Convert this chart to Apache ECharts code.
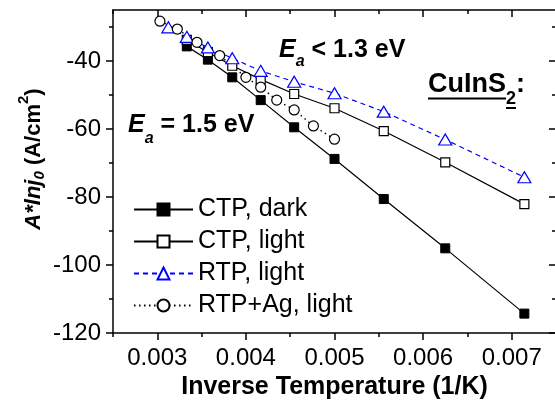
<!DOCTYPE html>
<html><head><meta charset="utf-8">
<script src="https://cdn.jsdelivr.net/npm/echarts@6/dist/echarts.min.js"></script>
<style>html,body{margin:0;padding:0;background:#fff}#c{width:555px;height:400px}</style>
</head><body><div id="c"></div>
<script>
// ---- data ----
const xMajorTicks = [0.003, 0.004, 0.005, 0.006, 0.007];
const xMinorTicks = [0.0025, 0.0035, 0.0045, 0.0055, 0.0065, 0.0075];
const yMajorTicks = [-120, -100, -80, -60, -40];
const yMinorTicks = [-110, -90, -70, -50, -30];

const seriesNames = ['CTP, dark', 'CTP, light', 'RTP, light', 'RTP+Ag, light'];

const ctpX      = [0.003333, 0.003571, 0.003846, 0.004167, 0.004545, 0.005, 0.005556, 0.00625, 0.007143];
const ctpDark   = [-35.7, -39.6, -44.8, -51.5, -59.5, -68.8, -80.6, -95.1, -114.3];
const ctpLight  = [-33.8, -37.4, -41.4, -45.4, -49.7, -53.9, -60.6, -69.8, -82.1];

const rtpX      = [0.003125, 0.003333, 0.003571, 0.003846, 0.004167, 0.004545, 0.005, 0.005556, 0.00625, 0.007143];
const rtpLight  = [-30.1, -32.9, -36.0, -39.2, -42.9, -46.1, -49.5, -54.9, -63.1, -74.2];

const agX       = [0.00303, 0.003226, 0.003448, 0.003704, 0.004, 0.004167, 0.004348, 0.004545, 0.004762, 0.005];
const agLight   = [-28.3, -30.6, -34.5, -38.4, -44.8, -47.7, -51.5, -54.4, -59.1, -63.0];

// ---- chart ----
const FONT = '"Liberation Sans", Arial, Helvetica, sans-serif';
const BLACK = '#000', BLUE = '#0000ff';
const pts = (xs, ys) => xs.map((x, i) => [x, ys[i]]);
function measure(text, font) {
  const c = document.createElement('canvas').getContext('2d');
  c.font = font; return c.measureText(text).width;
}
const cuW = measure('CuInS', 'bold 27px "Liberation Sans"');
const subW = measure('2', 'bold 18px "Liberation Sans"');

const axLine = {color: BLACK, width: 1.5};
const xBase = {type: 'value', min: 0.0025, max: 0.0075, splitLine: {show: false}};
const yBase = {type: 'value', min: -120, max: -25, splitLine: {show: false}};

const chart = echarts.init(document.getElementById('c'));
chart.setOption({
  animation: false,
  backgroundColor: '#fff',
  grid: {left: 113, top: 10, width: 443, height: 323, containLabel: false, outerBoundsMode: 'none'},
  xAxis: [
    Object.assign({}, xBase, {position: 'bottom',
      axisLine: {show: true, onZero: false, lineStyle: axLine},
      axisTick: {show: true, inside: false, length: 7, customValues: xMajorTicks, lineStyle: axLine},
      axisLabel: {show: true, customValues: xMajorTicks, formatter: v => v.toFixed(3),
        fontSize: 24, fontFamily: FONT, color: BLACK, margin: 13},
      name: 'Inverse Temperature (1/K)', nameLocation: 'middle', nameGap: 41,
      nameTextStyle: {fontSize: 25, fontWeight: 'bold', fontFamily: FONT, color: BLACK}}),
    Object.assign({}, xBase, {position: 'bottom',
      axisLine: {show: false, onZero: false},
      axisTick: {show: true, inside: false, length: 4, customValues: xMinorTicks, lineStyle: axLine},
      axisLabel: {show: false}}),
    Object.assign({}, xBase, {position: 'top',
      axisLine: {show: true, onZero: false, lineStyle: axLine},
      axisTick: {show: true, inside: true, length: 7, customValues: xMajorTicks, lineStyle: axLine},
      axisLabel: {show: false}}),
    Object.assign({}, xBase, {position: 'top',
      axisLine: {show: false, onZero: false},
      axisTick: {show: true, inside: true, length: 4, customValues: xMinorTicks, lineStyle: axLine},
      axisLabel: {show: false}})
  ],
  yAxis: [
    Object.assign({}, yBase, {position: 'left',
      axisLine: {show: true, onZero: false, lineStyle: axLine},
      axisTick: {show: true, inside: false, length: 7, customValues: yMajorTicks, lineStyle: axLine},
      axisLabel: {show: true, customValues: yMajorTicks, fontSize: 24, fontFamily: FONT, color: BLACK, margin: 12}}),
    Object.assign({}, yBase, {position: 'left',
      axisLine: {show: false, onZero: false},
      axisTick: {show: true, inside: false, length: 4, customValues: yMinorTicks, lineStyle: axLine},
      axisLabel: {show: false}}),
    Object.assign({}, yBase, {position: 'right',
      axisLine: {show: true, onZero: false, lineStyle: axLine},
      axisTick: {show: true, inside: true, length: 7, customValues: yMajorTicks, lineStyle: axLine},
      axisLabel: {show: false}}),
    Object.assign({}, yBase, {position: 'right',
      axisLine: {show: false, onZero: false},
      axisTick: {show: true, inside: true, length: 4, customValues: yMinorTicks, lineStyle: axLine},
      axisLabel: {show: false}})
  ],
  legend: {
    orient: 'vertical', left: 133, top: 197, padding: 0,
    itemWidth: 59, itemHeight: 15, itemGap: 7, selectedMode: false,
    textStyle: {fontSize: 25, fontFamily: FONT, color: BLACK},
    data: seriesNames
  },
  series: [
    {name: seriesNames[0], type: 'line', data: pts(ctpX, ctpDark),
      symbol: 'rect', symbolSize: 9,
      itemStyle: {color: BLACK, borderColor: BLACK, borderWidth: 1},
      lineStyle: {color: BLACK, width: 1.2}},
    {name: seriesNames[1], type: 'line', data: pts(ctpX, ctpLight),
      symbol: 'rect', symbolSize: 9,
      itemStyle: {color: '#fff', borderColor: BLACK, borderWidth: 1.2},
      lineStyle: {color: BLACK, width: 1.2}},
    {name: seriesNames[2], type: 'line', data: pts(rtpX, rtpLight),
      symbol: 'triangle', symbolSize: [13, 11],
      itemStyle: {color: '#fff', borderColor: BLUE, borderWidth: 1.2},
      lineStyle: {color: BLUE, width: 1.2, type: [5, 4]}},
    {name: seriesNames[3], type: 'line', data: pts(agX, agLight),
      symbol: 'circle', symbolSize: 10,
      itemStyle: {color: '#fff', borderColor: BLACK, borderWidth: 1.2},
      lineStyle: {color: BLACK, width: 1.4, type: [1.5, 3.5]}}
  ],
  graphic: [
    {type: 'text', x: 279, y: 50, z: 100, style: {
      text: '{e|E}{s|a}{t| < 1.3 eV}', align: 'left', verticalAlign: 'middle',
      rich: {
        e: {fontSize: 25, fontWeight: 'bold', fontStyle: 'italic', fontFamily: FONT, fill: BLACK},
        s: {fontSize: 16, fontWeight: 'bold', fontStyle: 'italic', fontFamily: FONT, fill: BLACK, padding: [24, 0, 0, 0]},
        t: {fontSize: 25, fontWeight: 'bold', fontFamily: FONT, fill: BLACK}
      }}},
    {type: 'text', x: 128, y: 125.5, z: 100, style: {
      text: '{e|E}{s|a}{t| = 1.5 eV}', align: 'left', verticalAlign: 'middle',
      rich: {
        e: {fontSize: 25, fontWeight: 'bold', fontStyle: 'italic', fontFamily: FONT, fill: BLACK},
        s: {fontSize: 16, fontWeight: 'bold', fontStyle: 'italic', fontFamily: FONT, fill: BLACK, padding: [27, 0, 0, 0]},
        t: {fontSize: 25, fontWeight: 'bold', fontFamily: FONT, fill: BLACK}
      }}},
    {type: 'text', x: 428, y: 84.5, z: 100, style: {
      text: '{m|CuInS}{s|2}{m|:}', align: 'left', verticalAlign: 'middle',
      rich: {
        m: {fontSize: 27, fontWeight: 'bold', fontFamily: FONT, fill: BLACK},
        s: {fontSize: 18, fontWeight: 'bold', fontFamily: FONT, fill: BLACK, padding: [30, 0, 0, 0]}
      }}},
    {type: 'line', z: 100, shape: {x1: 428, y1: 98.5, x2: 428 + cuW, y2: 98.5}, style: {stroke: BLACK, lineWidth: 2}},
    {type: 'line', z: 100, shape: {x1: 428 + cuW, y1: 108, x2: 428 + cuW + subW, y2: 108}, style: {stroke: BLACK, lineWidth: 2}},
    {type: 'text', x: 34, y: 159, rotation: Math.PI / 2, z: 100, style: {
      text: '{i|A*lnj}{sub|0}{r| (A/cm}{sup|2}{r|)}', align: 'center', verticalAlign: 'middle',
      rich: {
        i: {fontSize: 22, fontWeight: 'bold', fontStyle: 'italic', fontFamily: FONT, fill: BLACK},
        sub: {fontSize: 15, fontWeight: 'bold', fontStyle: 'italic', fontFamily: FONT, fill: BLACK, padding: [12, 0, 0, 0]},
        r: {fontSize: 22, fontWeight: 'bold', fontFamily: FONT, fill: BLACK},
        sup: {fontSize: 15, fontWeight: 'bold', fontFamily: FONT, fill: BLACK, padding: [0, 0, 20, 0]}
      }}}
  ]
});
</script>
</body></html>
